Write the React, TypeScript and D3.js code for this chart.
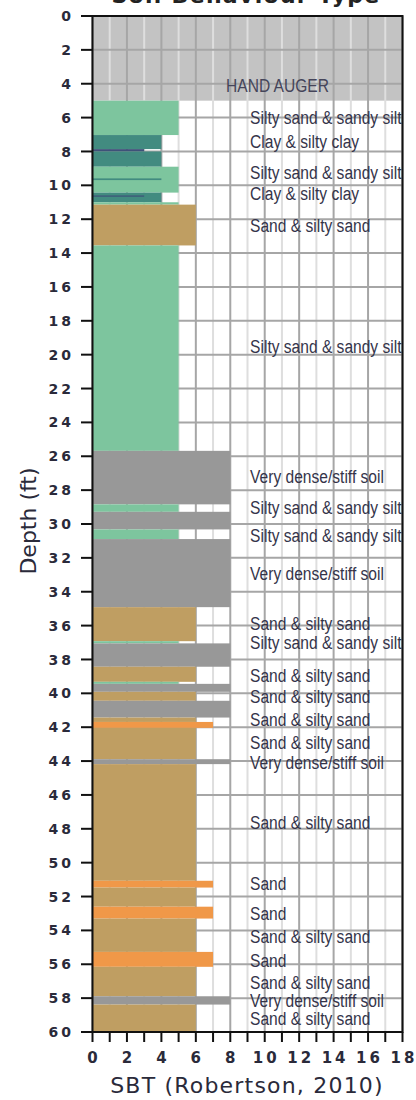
import React from "react";
import * as d3 from "d3";

const layerTops = [5, 7.03, 7.86, 8.0, 8.9, 9.59, 10.43, 10.6, 11.0, 11.14, 13.55, 25.68, 28.84, 29.28, 30.32, 30.89, 34.91, 36.92, 37.05, 38.43, 39.32, 39.44, 39.91, 40.44, 41.43, 41.69, 42.04, 43.89, 44.18, 51.07, 51.47, 52.6, 53.3, 55.27, 56.15, 57.89, 58.38];
const layerBottoms = [7.03, 7.86, 8.0, 8.9, 10.43, 9.69, 11.0, 10.67, 11.14, 13.55, 25.68, 28.84, 29.28, 30.32, 30.89, 34.91, 36.92, 37.05, 38.43, 39.32, 39.44, 39.91, 40.44, 41.43, 41.69, 42.04, 43.89, 44.18, 51.07, 51.47, 52.6, 53.3, 55.27, 56.15, 57.89, 58.38, 60];
const layerSbt = [5, 4, 3, 4, 5, 4, 4, 3, 5, 6, 5, 8, 5, 8, 5, 8, 6, 5, 8, 6, 5, 8, 6, 8, 6, 7, 6, 8, 6, 7, 6, 7, 6, 7, 6, 8, 6];

const labelDepths = [5.95, 7.42, 9.2, 10.47, 12.35, 19.5, 27.2, 29.0, 30.66, 32.92, 35.87, 36.96, 38.92, 40.17, 41.53, 42.86, 44.05, 47.59, 51.23, 53.0, 54.34, 55.76, 57.04, 58.12, 59.2];
const labelTexts = [
  "Silty sand & sandy silt", "Clay & silty clay", "Silty sand & sandy silt", "Clay & silty clay",
  "Sand & silty sand", "Silty sand & sandy silt", "Very dense/stiff soil", "Silty sand & sandy silt",
  "Silty sand & sandy silt", "Very dense/stiff soil", "Sand & silty sand", "Silty sand & sandy silt",
  "Sand & silty sand", "Sand & silty sand", "Sand & silty sand", "Sand & silty sand",
  "Very dense/stiff soil", "Sand & silty sand", "Sand", "Sand", "Sand & silty sand", "Sand",
  "Sand & silty sand", "Very dense/stiff soil", "Sand & silty sand",
];

const handAugerTop = 0;
const handAugerBottom = 5;
const handAugerLabel = "HAND AUGER";
const depthTicks = d3.range(0, 61, 2);
const sbtTicks = d3.range(0, 19, 2);
const sbtMinor = d3.range(0, 19, 1);

const sbtColors: Record<number, string> = {
  3: "#3e5179",
  4: "#428b80",
  5: "#7dc59e",
  6: "#bf9e62",
  7: "#f09848",
  8: "#989898",
};

export default function App() {
  const x = d3.scaleLinear().domain([0, 18]).range([92.5, 402.5]);
  const y = d3.scaleLinear().domain([0, 60]).range([16, 1032]);
  const [x0, x1] = x.range();
  const [y0, y1] = y.range();
  const labelX = x(9.15);
  const tickFont = "'DejaVu Sans', Verdana, sans-serif";
  const labelFont = "'Liberation Sans', Arial, sans-serif";

  return (
    <svg width={416} height={1100} style={{ position: "absolute", left: 0, top: 0 }}>
      <defs>
        <clipPath id="plotClip">
          <rect x={x0} y={y0} width={x1 - x0} height={y1 - y0} />
        </clipPath>
      </defs>
      <rect width={416} height={1100} fill="#fff" />
      <text x={246} y={3} textAnchor="middle" fontFamily={tickFont} fontWeight="bold" fontSize={22} letterSpacing={1.3} fill="#222">
        Soil Behaviour Type
      </text>

      {/* hand auger background */}
      <rect x={x(0)} y={y(handAugerTop)} width={x(18) - x(0)} height={y(handAugerBottom) - y(handAugerTop)} fill="#c3c3c3" />

      {/* grid */}
      <g>
        {sbtMinor.map((v) => (
          <line key={"v" + v} x1={x(v)} x2={x(v)} y1={y0} y2={y1} stroke={v % 2 === 0 ? "#a6a6a6" : "#dedede"} strokeWidth={2} />
        ))}
        {depthTicks.map((d) => (
          <line key={"h" + d} x1={x0} x2={x1} y1={y(d)} y2={y(d)} stroke="#a6a6a6" strokeWidth={2} />
        ))}
      </g>

      {/* labels */}
      <g clipPath="url(#plotClip)" fill="#34344a" fontFamily={labelFont} fontSize={19} style={{ fontVariantLigatures: "none" }}>
        <g transform={`translate(${277.5},${y(4.08)}) scale(0.82,1)`}>
          <text textAnchor="middle" dy="0.36em" fill="#45455a">{handAugerLabel}</text>
        </g>
        {labelTexts.map((t, i) => (
          <g key={i} transform={`translate(${labelX},${y(labelDepths[i])}) scale(0.82,1)`}>
            <text dy="0.36em">{t}</text>
          </g>
        ))}
      </g>

      {/* layers */}
      <g>
        {layerTops.map((t, i) => (
          <rect key={i} x={x(0)} y={y(t)} width={x(layerSbt[i]) - x(0)} height={y(layerBottoms[i]) - y(t)} fill={sbtColors[layerSbt[i]]} />
        ))}
      </g>

      {/* frame */}
      <rect x={x0} y={y0} width={x1 - x0} height={y1 - y0} fill="none" stroke="#111" strokeWidth={2} />

      {/* y axis */}
      <g fontFamily={tickFont} fontWeight="bold" fontSize={14} fill="#2a2a3a">
        {depthTicks.map((d) => (
          <g key={d}>
            <line x1={81} x2={x0} y1={y(d)} y2={y(d)} stroke="#111" strokeWidth={2} />
            <text x={74} y={y(d)} dy="0.36em" textAnchor="end" letterSpacing={3}>{d}</text>
          </g>
        ))}
      </g>
      <text transform={`translate(28,${521}) rotate(-90)`} textAnchor="middle" dy="0.36em" fontFamily={tickFont} fontSize={22} fill="#2a2a3a">
        Depth (ft)
      </text>

      {/* x axis */}
      <g fontFamily={tickFont} fontWeight="bold" fontSize={15} fill="#2a2a3a">
        {sbtMinor.map((v) => (
          <line key={"t" + v} x1={x(v)} x2={x(v)} y1={y1} y2={y1 + 10} stroke="#111" strokeWidth={2} />
        ))}
        {sbtTicks.map((v) => (
          <text key={"l" + v} x={x(v) + 1.5} y={1058} dy="0.36em" textAnchor="middle" letterSpacing={3}>{v}</text>
        ))}
      </g>
      <text x={247} y={1085} dy="0.36em" textAnchor="middle" fontFamily={tickFont} fontSize={22} letterSpacing={1.2} fill="#2a2a3a">
        SBT (Robertson, 2010)
      </text>
    </svg>
  );
}
